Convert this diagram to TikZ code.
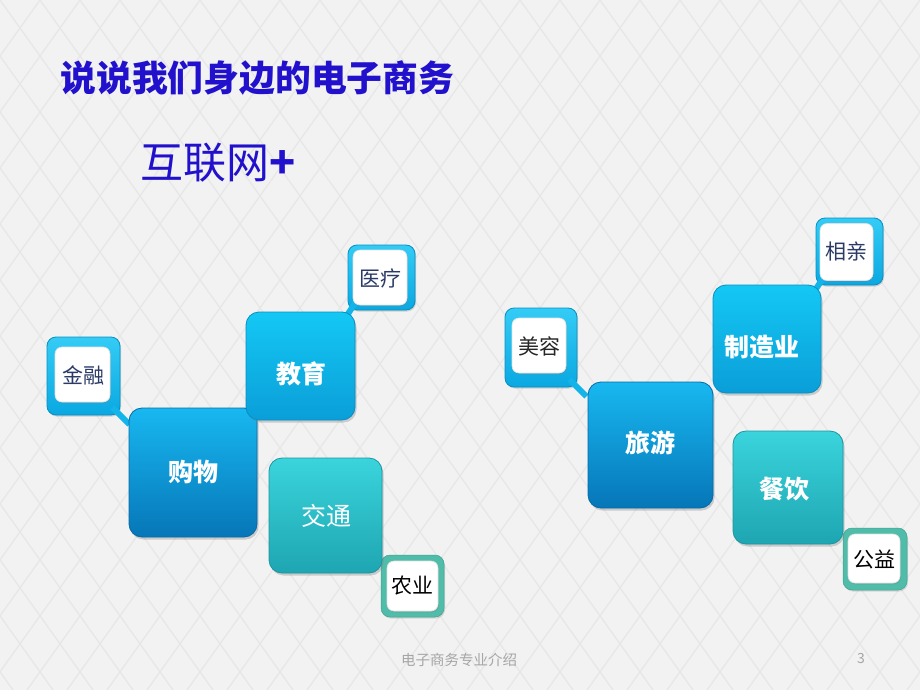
\documentclass[tikz,border=0pt]{standalone}
\usepackage{fontspec}
\newfontfamily\cjk{Noto Sans CJK SC}
\usetikzlibrary{shadows}
\definecolor{bgc}{HTML}{F2F2F2}
\definecolor{patc}{HTML}{E7E7E7}
\definecolor{titlec}{HTML}{2211CC}
\definecolor{navy}{HTML}{2B3A67}
\definecolor{footc}{HTML}{A6A6A6}
\definecolor{bTop}{HTML}{18B8F0}
\definecolor{bBot}{HTML}{0676B8}
\definecolor{cTop}{HTML}{14C8F4}
\definecolor{cBot}{HTML}{0A9ED8}
\definecolor{tTop}{HTML}{3AD4DC}
\definecolor{tBot}{HTML}{1EA6B2}
\definecolor{fTop}{HTML}{34CCF6}
\definecolor{fBot}{HTML}{0AA8E2}
\definecolor{neckc}{HTML}{12B4EA}
\definecolor{tealf}{HTML}{4FBDA9}
\tikzset{
  boxbase/.style={rounded corners=13pt, line width=0.8pt,
    drop shadow={opacity=0.35, shadow xshift=1.5pt, shadow yshift=-2.5pt}},
  bluebox/.style={boxbase, top color=bTop, bottom color=bBot, draw=bBot!90!black},
  cyanbox/.style={boxbase, top color=cTop, bottom color=cBot, draw=cBot!90!black},
  tealbox/.style={boxbase, top color=tTop, bottom color=tBot, draw=tBot!90!black},
  framebox/.style={rounded corners=9pt, top color=fTop, bottom color=fBot, draw=fBot!85!black, line width=0.8pt,
    drop shadow={opacity=0.3, shadow xshift=1pt, shadow yshift=-1.5pt}},
  tframe/.style={rounded corners=9pt, fill=tealf, draw=tealf!85!black, line width=0.5pt,
    drop shadow={opacity=0.25, shadow xshift=1pt, shadow yshift=-1.5pt}},
  whitebox/.style={rounded corners=7pt, fill=white, draw=black!12, line width=0.6pt,
    drop shadow={opacity=0.25, shadow xshift=1pt, shadow yshift=-1.5pt}},
  neck/.style={line width=6pt, draw=neckc},
  biglabel/.style={text=white, font=\cjk\bfseries\fontsize{25}{28}\selectfont},
  biglabelr/.style={text=white, font=\cjk\fontsize{25}{28}\selectfont},
  smalllabel/.style={font=\cjk\fontsize{21}{24}\selectfont},
}
\begin{document}
\begin{tikzpicture}[x=1pt,y=-1pt]
\useasboundingbox (0,0) rectangle (920,690);
\fill[bgc] (0,0) rectangle (920,690);
\begin{scope}
\clip (0,0) rectangle (920,690);
\foreach \i in {-14,...,37} {
  \draw[patc, line width=1.3pt] (\i*40,0) -- ++(493,690);
  \draw[patc, line width=1.3pt] (\i*40,0) -- ++(-493,690);
}
\end{scope}

% titles
\node[text=titlec, font=\cjk\bfseries\fontsize{35.8}{40}\selectfont, anchor=west] (title) at (57,78) {说说我们身边的电子商务};
\node[text=titlec, font=\cjk\fontsize{43}{48}\selectfont, anchor=west] (hlw) at (137,163) {互联网\textbf{+}};

% ---------- left group ----------
\node[framebox, minimum width=73pt, minimum height=78pt] (jrf) at (83.5,376) {};
\node[framebox, minimum width=67pt, minimum height=65pt] (ylf) at (381.5,277.5) {};
\node[tframe, minimum width=63pt, minimum height=62pt] (nyf) at (412.5,586) {};
\draw[neck] ([shift={(-8,-8)}]jrf.south east) -- ([shift={(9,9)}]jrf.south east) coordinate (jrn);
\draw[neck] ([shift={(8,-8)}]ylf.south west) -- ([shift={(-4,10)}]ylf.south west) coordinate (yln);

\node[bluebox, minimum width=128pt, minimum height=129pt] (gw) at (193,472.5) {};
\node[cyanbox, minimum width=109pt, minimum height=108pt] (jy) at (300.5,366) {};
\node[tealbox, minimum width=113pt, minimum height=115pt] (jt) at (325.5,515.5) {};

\node[whitebox, minimum width=55pt, minimum height=55pt] (jrw) at (82.5,374.5) {};
\node[whitebox, minimum width=54pt, minimum height=55pt] (ylw) at (380,277.5) {};
\node[whitebox, minimum width=51pt, minimum height=50pt] (nyw) at (412.5,586) {};

\node[biglabel] (gwt) at (193,472) {购物};
\node[biglabel] (jyt) at (301,374) {教育};
\node[biglabelr] (jtt) at (326,516) {交通};
\node[smalllabel, text=navy] (jrt) at (83,375) {金融};
\node[smalllabel, text=navy] (ylt) at (380,278) {医疗};
\node[smalllabel, text=black] (nyt) at (412,586) {农业};

% ---------- right group ----------
\node[framebox, minimum width=72pt, minimum height=79pt] (mrf) at (541,347.5) {};
\node[framebox, minimum width=67pt, minimum height=67pt] (xqf) at (849.5,251.5) {};
\node[tframe, minimum width=64pt, minimum height=62pt] (gyf) at (875,559) {};
\draw[neck] ([shift={(-8,-8)}]mrf.south east) -- ([shift={(9,9)}]mrf.south east) coordinate (mrn);
\draw[neck] ([shift={(8,-8)}]xqf.south west) -- ([shift={(-4,10)}]xqf.south west) coordinate (xqn);

\node[bluebox, minimum width=125pt, minimum height=126pt] (ly) at (650.5,445) {};
\node[cyanbox, minimum width=108pt, minimum height=108pt] (zz) at (767,339) {};
\node[tealbox, minimum width=110pt, minimum height=113pt] (cy) at (788,487.5) {};

\node[whitebox, minimum width=54pt, minimum height=55pt] (mrw) at (539,345.5) {};
\node[whitebox, minimum width=53pt, minimum height=57pt] (xqw) at (846.5,252) {};
\node[whitebox, minimum width=52pt, minimum height=49pt] (gyw) at (874,558.5) {};

\node[biglabel] (lyt) at (650,443) {旅游};
\node[biglabel] (zzt) at (762,347) {制造业};
\node[biglabel] (cyt) at (784,489) {餐饮};
\node[smalllabel, text=black!85] (mrt) at (539,346) {美容};
\node[smalllabel, text=navy] (xqt) at (846,252) {相亲};
\node[smalllabel, text=black] (gyt) at (874,559) {公益};

% footer
\node[text=footc, font=\cjk\fontsize{14.5}{16}\selectfont] (foot) at (459,660) {电子商务专业介绍};
\node[text=footc, font=\cjk\fontsize{14}{16}\selectfont] (pg) at (861,659) {3};
\end{tikzpicture}
\end{document}
